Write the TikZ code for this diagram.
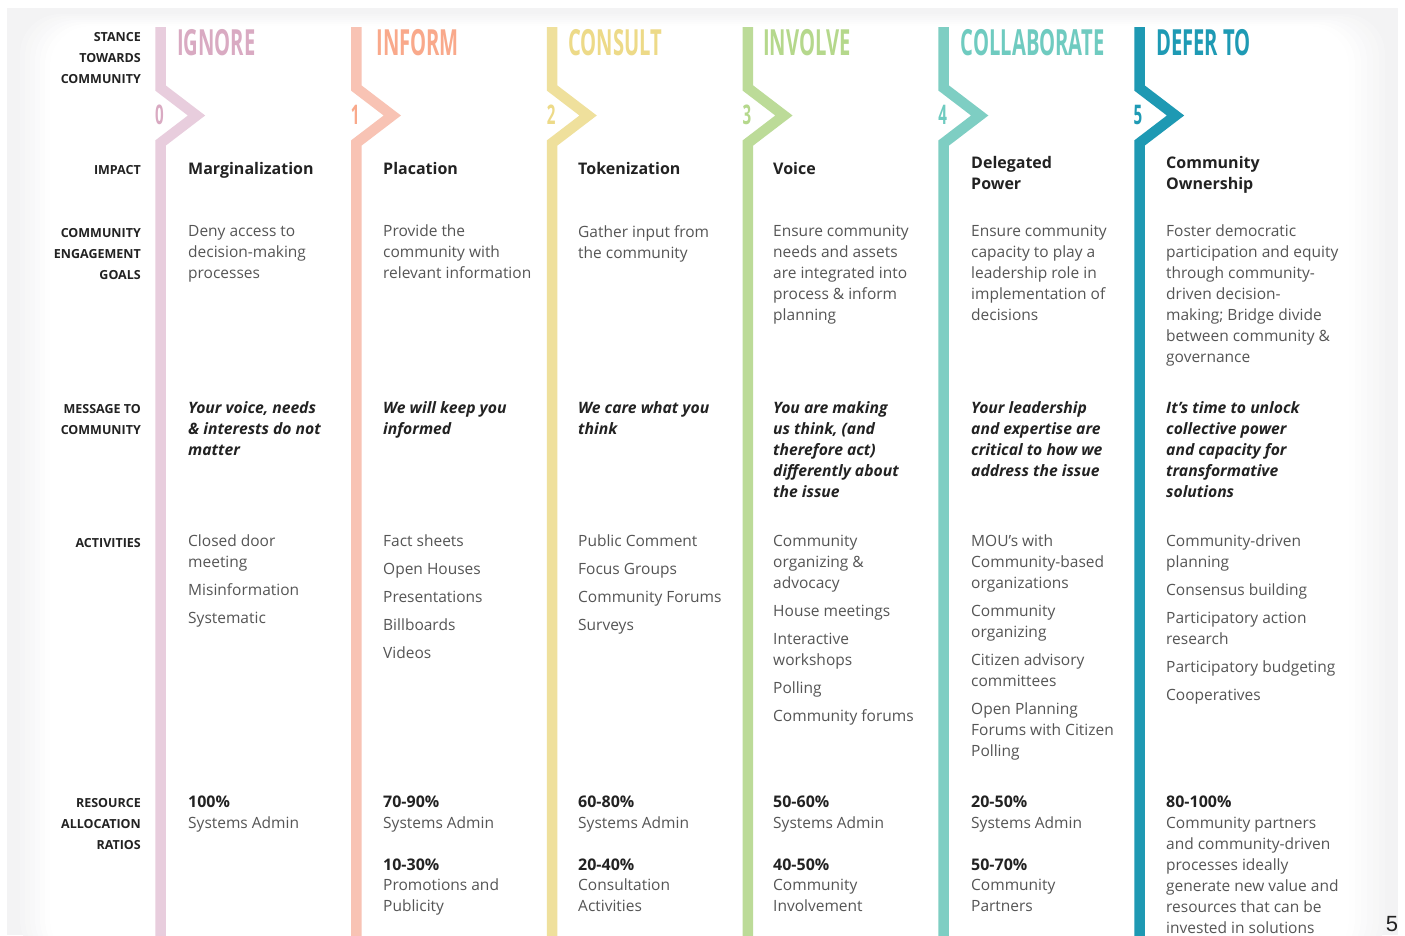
\documentclass[tikz,border=0pt]{standalone}
\usepackage{fontspec}
\setmainfont{Open Sans}
\newfontfamily\condfont{Open Sans}[FakeStretch=0.56]
\newfontfamily\pagefont{Liberation Sans}
\definecolor{c0}{HTML}{D9AAC2}\definecolor{b0}{HTML}{E8CDDD}
\definecolor{c1}{HTML}{F9A98B}\definecolor{b1}{HTML}{F8C3B4}
\definecolor{c2}{HTML}{EDDA88}\definecolor{b2}{HTML}{EFE09C}
\definecolor{c3}{HTML}{B5D88C}\definecolor{b3}{HTML}{BCDB98}
\definecolor{c4}{HTML}{6FCBC0}\definecolor{b4}{HTML}{7ECEC3}
\definecolor{c5}{HTML}{1E9AB4}\definecolor{b5}{HTML}{1E99B3}
\definecolor{darktxt}{HTML}{222222}
\definecolor{graytxt}{HTML}{555555}
\definecolor{frame}{HTML}{F3F3F4}
\tikzset{
  lbl/.style={font=\fontsize{12.5}{21}\selectfont\bfseries, text=darktxt, align=right, anchor=north east, inner sep=0pt, execute at begin node={\rule{0pt}{12pt}}},
  head/.style={font=\fontsize{16}{21}\selectfont\bfseries, text=darktxt, align=left, anchor=north west, inner sep=0pt, execute at begin node={\rule{0pt}{15pt}}},
  body/.style={font=\fontsize{15.5}{21}\selectfont, text=graytxt, align=left, anchor=north west, inner sep=0pt, execute at begin node={\rule{0pt}{15pt}}},
  msg/.style={font=\fontsize{15.7}{21}\selectfont\bfseries\itshape, text=darktxt, align=left, anchor=north west, inner sep=0pt, execute at begin node={\rule{0pt}{15pt}}},
  ttl/.style={font=\fontsize{36}{36}\selectfont\condfont\bfseries, anchor=base west, inner sep=0pt},
  num/.style={font=\fontsize{27}{27}\selectfont\condfont\bfseries, anchor=center, inner sep=0pt},
  bar/.style={line width=10.5pt, miter limit=10, line join=miter}
}
\begin{document}
\begin{tikzpicture}[x=1pt,y=-1pt]
\useasboundingbox (0,0) rectangle (1405,935);
\fill[white] (0,0) rectangle (1405,935);
\fill[frame] (7,8) rectangle (1398,935);
\foreach \i/\m in {0/15,1/30,2/45,3/60,4/75,5/90,6/100}{
  \fill[white!\m!frame, rounded corners=40pt] (20+\i*5,14+\i*2) rectangle (1385-\i*6,960);
}
% bars
\foreach \k/\cc in {0/b0,1/b1,2/b2,3/b3,4/b4,5/b5}{
  \pgfmathsetmacro{\cx}{160.5+195.8*\k}
  \draw[bar, draw=\cc] (\cx,27) -- (\cx,88) -- (\cx+36,115.5) -- (\cx,143) -- (\cx,940);
}
% row labels
\node[lbl] (l1) at (141,41-9) {STANCE\\TOWARDS\\COMMUNITY};
\node[lbl] (l2) at (141,174-12) {IMPACT};
\node[lbl] (l3) at (141,237-9) {COMMUNITY\\ENGAGEMENT\\GOALS};
\node[lbl] (l4) at (141,413-9) {MESSAGE TO\\COMMUNITY};
\node[lbl] (l5) at (141,547-12) {ACTIVITIES};
\node[lbl] (l6) at (141,807-9) {RESOURCE\\ALLOCATION\\RATIOS};
% titles and numbers
\node[ttl, text=c0] (t0) at (177,55.5) {IGNORE};
\node[ttl, text=c1] (t1) at (376.3,55.5) {INFORM};
\node[ttl, text=c2] (t2) at (568.1,55.5) {CONSULT};
\node[ttl, text=c3] (t3) at (762.9,55.5) {INVOLVE};
\node[ttl, text=c4] (t4) at (960.7,55.5) {COLLABORATE};
\node[ttl, text=c5] (t5) at (1156,55.5) {DEFER TO};
\node[num, text=c0] (n0) at (159.5,115) {0};
\node[num, text=c1] (n1) at (355.3,115) {1};
\node[num, text=c2] (n2) at (551.1,115) {2};
\node[num, text=c3] (n3) at (746.9,115) {3};
\node[num, text=c4] (n4) at (942.7,115) {4};
\node[num, text=c5] (n5) at (1138.0,115) {5};
% impact
\node[head] (i0) at (188,174-15) {Marginalization};
\node[head] (i1) at (383,174-15) {Placation};
\node[head] (i2) at (578,174-15) {Tokenization};
\node[head] (i3) at (773,174-15) {Voice};
\node[head] (i4) at (971,167-11) {Delegated\\Power};
\node[head] (i5) at (1166,167-11) {Community\\Ownership};
% goals
\node[body] (g0) at (188,236-11) {Deny access to\\decision-making\\processes};
\node[body] (g1) at (383,236-11) {Provide the\\community with\\relevant information};
\node[body] (g2) at (578,236-11) {Gather input from\\the community};
\node[body] (g3) at (773,236-11) {Ensure community\\needs and assets\\are integrated into\\process \& inform\\planning};
\node[body] (g4) at (971,236-11) {Ensure community\\capacity to play a\\leadership role in\\implementation of\\decisions};
\node[body] (g5) at (1166,236-11) {Foster democratic\\participation and equity\\through community-\\driven decision-\\making; Bridge divide\\between community \&\\governance};
% messages
\node[msg] (m0) at (188,413-12) {Your voice, needs\\\& interests do not\\matter};
\node[msg] (m1) at (383,413-12) {We will keep you\\informed};
\node[msg] (m2) at (578,413-12) {We care what you\\think};
\node[msg] (m3) at (773,413-12) {You are making\\us think, (and\\therefore act)\\differently about\\the issue};
\node[msg] (m4) at (971,413-12) {Your leadership\\and expertise are\\critical to how we\\address the issue};
\node[msg] (m5) at (1166,413-12) {It’s time to unlock\\collective power\\and capacity for\\transformative\\solutions};
% activities
\node[body] (a0) at (188,546-11) {Closed door\\meeting\\[7pt]Misinformation\\[7pt]Systematic};
\node[body] (a1) at (383,546-11) {Fact sheets\\[7pt]Open Houses\\[7pt]Presentations\\[7pt]Billboards\\[7pt]Videos};
\node[body] (a2) at (578,546-11) {Public Comment\\[7pt]Focus Groups\\[7pt]Community Forums\\[7pt]Surveys};
\node[body] (a3) at (773,546-11) {Community\\organizing \&\\advocacy\\[7pt]House meetings\\[7pt]Interactive\\workshops\\[7pt]Polling\\[7pt]Community forums};
\node[body] (a4) at (971,546-11) {MOU’s with\\Community-based\\organizations\\[7pt]Community\\organizing\\[7pt]Citizen advisory\\committees\\[7pt]Open Planning\\Forums with Citizen\\Polling};
\node[body] (a5) at (1166,546-11) {Community-driven\\planning\\[7pt]Consensus building\\[7pt]Participatory action\\research\\[7pt]Participatory budgeting\\[7pt]Cooperatives};
% resources
\node[head] (r0) at (188,807-15) {100\%};
\node[body] (s0) at (188,828-15) {Systems Admin};
\node[head] (r1) at (383,807-15) {70-90\%};
\node[body] (s1) at (383,828-15) {Systems Admin};
\node[head] (q1) at (383,870-15) {10-30\%};
\node[body] (p1) at (383,891-12) {Promotions and\\Publicity};
\node[head] (r2) at (578,807-15) {60-80\%};
\node[body] (s2) at (578,828-15) {Systems Admin};
\node[head] (q2) at (578,870-15) {20-40\%};
\node[body] (p2) at (578,891-12) {Consultation\\Activities};
\node[head] (r3) at (773,807-15) {50-60\%};
\node[body] (s3) at (773,828-15) {Systems Admin};
\node[head] (q3) at (773,870-15) {40-50\%};
\node[body] (p3) at (773,891-12) {Community\\Involvement};
\node[head] (r4) at (971,807-15) {20-50\%};
\node[body] (s4) at (971,828-15) {Systems Admin};
\node[head] (q4) at (971,870-15) {50-70\%};
\node[body] (p4) at (971,891-12) {Community\\Partners};
\node[head] (r5) at (1166,807-15) {80-100\%};
\node[body] (s5) at (1166,828-11) {Community partners\\and community-driven\\processes ideally\\generate new value and\\resources that can be\\invested in solutions};
% page number
\node[font=\fontsize{22}{22}\selectfont\pagefont, text=darktxt, anchor=base, inner sep=0pt] (pg) at (1392,931) {5};
\end{tikzpicture}
\end{document}
